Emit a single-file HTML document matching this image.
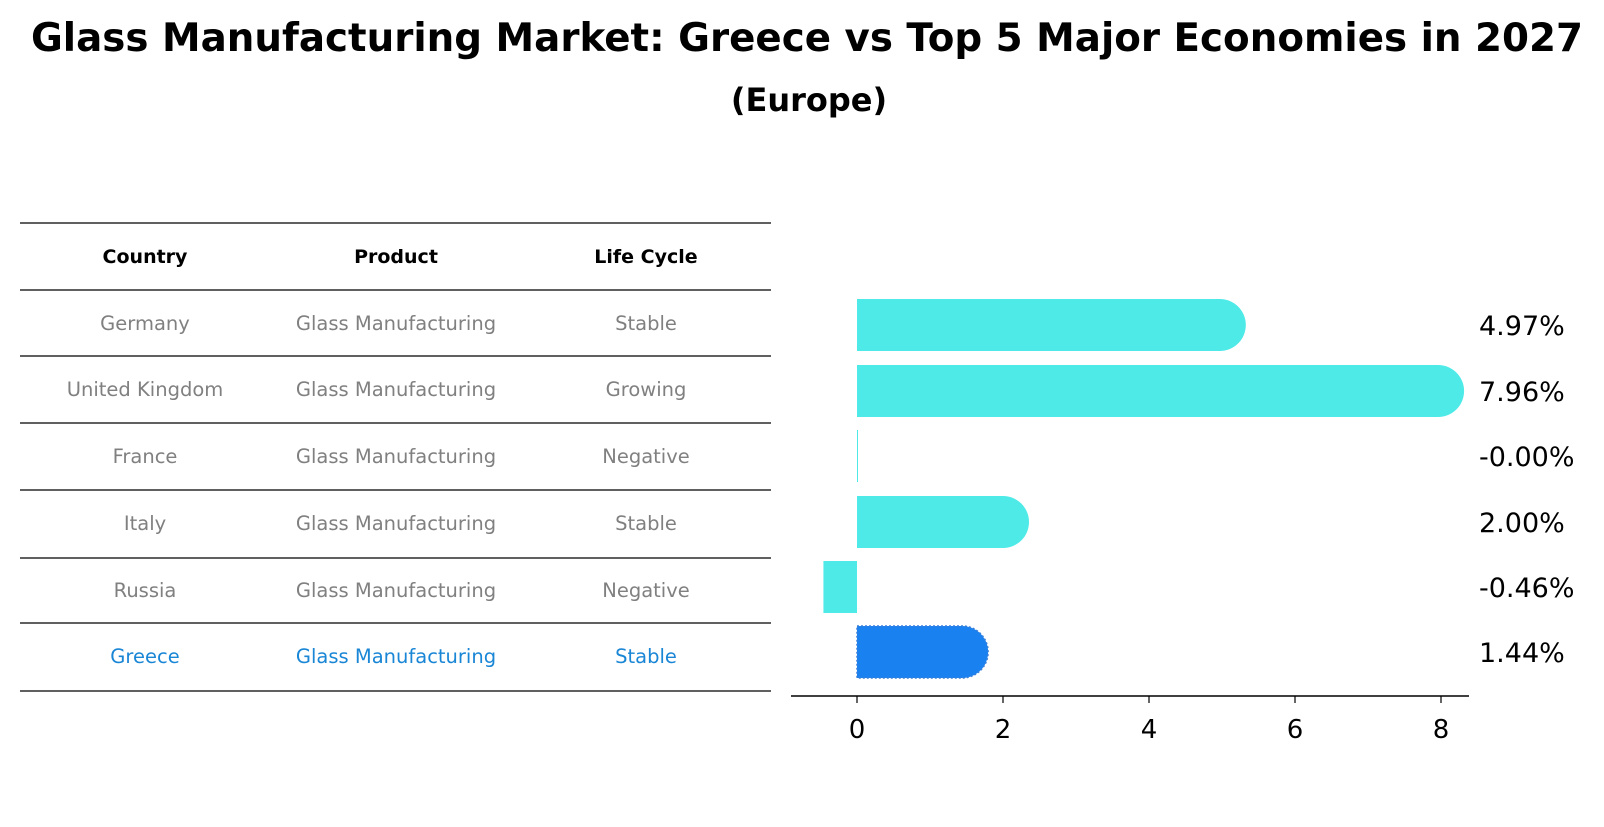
<!DOCTYPE html>
<html><head><meta charset="utf-8"><style>
body{margin:0;background:#fff;width:1604px;height:823px;overflow:hidden;font-family:"DejaVu Sans","Liberation Sans",sans-serif}
</style></head><body>
<svg width="1604" height="823" id="svg" xmlns="http://www.w3.org/2000/svg" font-family="DejaVu Sans, Liberation Sans, sans-serif">
<text x="807" y="51" text-anchor="middle" font-size="38.8" font-weight="bold">Glass Manufacturing Market: Greece vs Top 5 Major Economies in 2027</text>
<text x="809" y="111" text-anchor="middle" font-size="32" font-weight="bold">(Europe)</text>
<g id="table"></g>
<g id="bars"></g>
</svg>
<script>
const countries=["Germany","United Kingdom","France","Italy","Russia","Greece"];
const products=["Glass Manufacturing","Glass Manufacturing","Glass Manufacturing","Glass Manufacturing","Glass Manufacturing","Glass Manufacturing"];
const lifecycles=["Stable","Growing","Negative","Stable","Negative","Stable"];
const values=[4.97,7.96,-0.00,2.00,-0.46,1.44];
const ticks=[0,2,4,6,8];
const NS="http://www.w3.org/2000/svg";
function mk(tag,attrs,parent){const e=document.createElementNS(NS,tag);for(const k in attrs)e.setAttribute(k,attrs[k]);parent.appendChild(e);return e;}
const tbl=document.getElementById('table');
const lineYs=[223,290,356,423,490,558,623,691];
lineYs.forEach(y=>{const l=mk('line',{x1:20,x2:771,y1:y,y2:y,stroke:'#000','stroke-width':1.2},tbl);

});
const colX=[145,396,646];
["Country","Product","Life Cycle"].forEach((h,i)=>{const t=mk('text',{x:colX[i],y:263,'text-anchor':'middle','font-size':19,'font-weight':'bold'},tbl);t.textContent=h;

});
const rowY=[323,389,456,523,590,656];
countries.forEach((c,r)=>{const col=r===5?'#1a86d6':'#808080';[c,products[r],lifecycles[r]].forEach((v,i)=>{const t=mk('text',{x:colX[i],y:rowY[r]+7,'text-anchor':'middle','font-size':19.5,fill:col},tbl);t.textContent=v;

});});
const bg=document.getElementById('bars');
const X=v=>857+v*73;
const barC=[325,391,456,522,587,652];
const H=52,R=26;
const ax=mk('line',{x1:791,x2:1469,y1:696,y2:696,stroke:'#000','stroke-width':1.5},bg);


ticks.forEach(t=>{const tk=mk('line',{x1:X(t),x2:X(t),y1:696,y2:703,stroke:'#000','stroke-width':1.2},bg);


const tl=mk('text',{x:X(t),y:738,'text-anchor':'middle','font-size':26},bg);tl.textContent=t;

});
values.forEach((v,i)=>{const y0=barC[i]-H/2,x0=X(0),x1=X(v);const col=i===5?'#1a82f0':'#4deae8';let d;
if(v>0){d=`M${x0},${y0}H${x1}A${R},${R} 0 0 1 ${x1},${y0+H}H${x0}Z`;}else{d=`M${Math.min(x0,x1)},${y0}H${Math.max(x0,x1)+ (v===0?1:0)}V${y0+H}H${Math.min(x0,x1)}Z`;}
const attrs={d:d,fill:col};if(i===5){attrs.stroke='#3a7fd8';attrs['stroke-dasharray']='2,2';attrs['stroke-width']=1.5;}
const p=mk('path',attrs,bg);


const t=mk('text',{x:1479,y:barC[i]+10,'font-size':27},bg);t.textContent=(v===0?'-0.00%':v.toFixed(2)+'%');

});
</script>
</body></html>
